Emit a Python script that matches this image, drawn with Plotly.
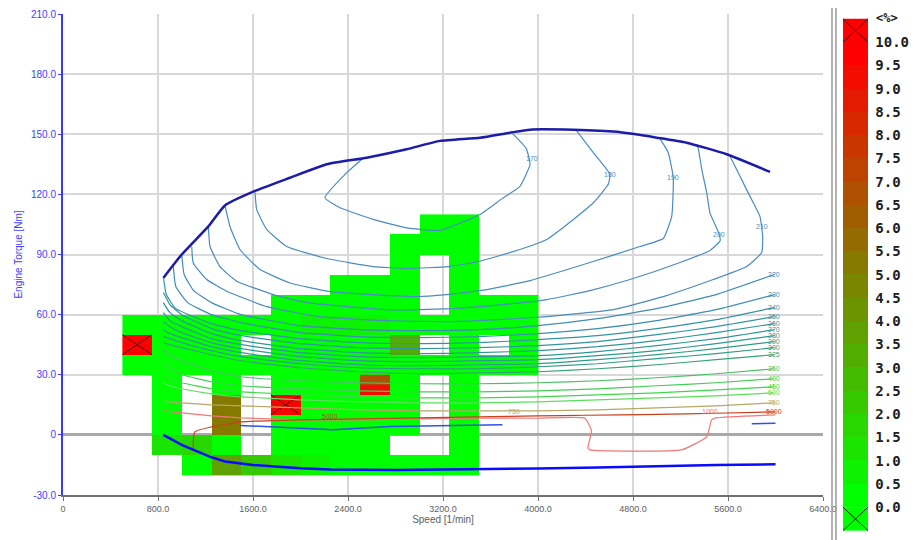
import plotly.graph_objects as go

# ---------------- data ----------------
cell_speed = [625, 875, 1125, 1375, 1625, 1875, 2125, 2375, 2625, 2875, 3125, 3375, 3625, 3875]
cell_torque = [-15, -5, 5, 15, 25, 35, 45, 55, 65, 75, 85, 95, 105]
N = None
cell_value = [
    [N, N, 0, 3.5, 2, 1, 0.5, 0, 0, 0, 0, 0, N, N],
    [N, 1, 1.5, 0, N, 0, 0, 0, 0, N, N, 0, N, N],
    [N, 0, N, 5, N, 0, 0, 0, 0, 0, N, 0, N, N],
    [N, 0, N, 5, N, 10, 0, 0, 0, 0, N, 0, N, N],
    [N, 0, N, 0, N, 0, 0, 0, 9, 0, N, 0, N, N],
    [0, 0.3, 0, 0, 0, 0, 0, 0, 0, 0, 0, 0, 0, 0],
    [10, 0.3, 0, 0, N, 0, 0, 0.3, 0, 3, N, 0, N, 0],
    [0, 0, 0, 0, 0, 0, 0.6, 0.6, 0.6, 0, 0, 0, 0, 0],
    [N, N, N, N, N, 0, 0, 0, 0, 0.3, N, 0.3, 0, 0],
    [N, N, N, N, N, N, N, 0, 0, 0.3, N, 0.3, N, N],
    [N, N, N, N, N, N, N, N, N, 0.3, N, 0.3, N, N],
    [N, N, N, N, N, N, N, N, N, 0.3, 0, 0, N, N],
    [N, N, N, N, N, N, N, N, N, N, 0, 0, N, N],
]
# half-height sub cell (upper half of the 2500-2750 / 20-30 cell)
sub_cell_speed_edges = [2500, 2750]
sub_cell_torque_edges = [25, 30]
sub_cell_value = [[6.5]]

fullload_speed = [845, 1000, 1224, 1364, 1617, 1912, 2221, 2557, 2894, 3175, 3512, 3764, 3933, 4298, 4663, 5000, 5252, 5589, 5954]
fullload_torque = [78.3, 90, 104, 114.5, 121.7, 128.3, 135, 138.3, 142.5, 146.7, 148.3, 150.8, 152.3, 152.2, 151.2, 148.3, 145.8, 140, 131.2]

motoring_speed = [845, 1000, 1100, 1240, 1365, 1600, 2000, 2250, 2800, 3500, 4000, 4500, 5000, 5500, 6000]
motoring_torque = [0, -5, -7.5, -11, -13.3, -15, -16.7, -17.3, -17.5, -17.3, -16.8, -16.3, -15.5, -15, -14.7]

zero_power_speed = [1490, 2000, 2275, 2750, 3120, 3700, None, 5800, 6000]
zero_power_torque = [4.7, 3.5, 2.5, 4.2, 4.5, 5.0, None, 5.5, 5.8]

base_speed = [845, 900, 1000, 1250, 1500, 2000, 2500, 3000, 3500, 4000, 4500, 5000, 5500, 5990]

contour_levels = ["170", "180", "190", "200", "210", "220", "230", "240", "250", "260", "270",
                  "280", "290", "300", "325", "350", "400", "450", "500", "750", "1000", "5000"]

contour_speed = {
    "170": [2527, 2375, 2206, 2333, 2613, 2894, 3175, 3512, 3700, 3848, 3933, 3900, 3778],
    "180": [1617, 1631, 1715, 1884, 2221, 2613, 2900, 3250, 3512, 3848, 4073, 4298, 4466, 4592, 4606, 4466, 4326],
    "190": [1364, 1406, 1490, 1659, 1912, 2248, 2613, 2978, 3231, 3568, 3933, 4438, 4859, 5055, 5126, 5139, 5097, 5027],
    "200": [1224, 1238, 1322, 1463, 1771, 2052, 2400, 2726, 3000, 3287, 3512, 3708, 4073, 4438, 4775, 5196, 5448, 5533, 5527, 5448, 5421, 5379, 5351, 5337],
    "210": [1084, 1097, 1210, 1379, 1715, 2164, 2700, 3200, 3512, 4073, 4634, 5055, 5476, 5757, 5884, 5892, 5869, 5785, 5701, 5617],
    "220": [1000, 1020, 1100, 1250, 1500, 2000, 2500, 3000, 3500, 4000, 4500, 5000, 5500, 5990],
    "230": [929, 950, 1050, 1250, 1500, 2000, 2500, 3000, 3500, 4000, 4500, 5000, 5500, 5990],
    "240": [847, 870, 950, 1250, 1500, 2000, 2500, 3000, 3500, 4000, 4500, 5000, 5500, 5990],
    "250": base_speed, "260": base_speed, "270": base_speed, "280": base_speed,
    "290": base_speed, "300": base_speed, "325": base_speed, "350": base_speed,
    "400": base_speed, "450": base_speed, "500": base_speed, "750": base_speed,
    "1000": [845, 1000, 1250, 1500, 2000, 2500, 3000, 3500, 4000, 4396, 4450, 4420, 4438, 5208, 5421, 5462, 5500, 6000],
    "5000": [1095, 1110, 1250, 1500, 2000, 2500, 3000, 3500, 4000, 4396, 5000, 5500, 6000],
}
contour_torque = {
    "170": [138, 130, 118.3, 113.3, 107.5, 103.3, 102, 110, 118, 124, 135, 143, 150.8],
    "180": [121, 112.5, 102.5, 94, 88, 84, 83, 84, 86.7, 92.5, 97.5, 107.5, 115.8, 125, 130, 140.8, 151.7],
    "190": [114.5, 104, 92.5, 82.5, 75.8, 71.5, 70, 69, 70, 72.5, 77, 86, 94, 98, 109, 128.3, 140.8, 147.8],
    "200": [104, 94, 84, 76.7, 70, 66, 64, 62.5, 62.5, 63, 64, 65, 67.5, 72, 77.5, 86, 92, 96.7, 100, 110.8, 120.8, 132.5, 142.5, 145],
    "210": [94, 85.8, 77.5, 71.7, 64, 59, 57, 56.5, 57, 59, 62.5, 69, 77.5, 84, 91, 99, 109, 119, 129, 139],
    "220": [90, 80, 72, 66, 60, 54.5, 52.5, 52, 52.5, 54.5, 58, 63, 70, 80],
    "230": [84, 74, 66, 60, 56, 51, 49, 48.5, 49, 50.5, 53, 57, 62.5, 70],
    "240": [78, 70, 63, 55.5, 52, 48, 46, 45.5, 46, 47.5, 49.5, 53, 57.5, 63.5],
    "250": [71, 65, 60, 53, 49.5, 45.5, 43.5, 43, 43.5, 44.5, 46.5, 50, 54, 59],
    "260": [66, 61, 57, 50.5, 47, 43, 41, 40.5, 41, 42, 44, 47, 51, 55.5],
    "270": [61, 57, 54, 48, 45, 41, 39, 38.5, 39, 39.5, 41.5, 44.5, 48, 52.5],
    "280": [56.5, 54, 51, 46, 43, 39, 37, 36.5, 37, 37.5, 39.5, 42, 45.5, 49.5],
    "290": [52.5, 50.5, 48.5, 44, 41, 37, 35, 34.5, 35, 35.5, 37.5, 40, 43, 46.5],
    "300": [49, 48, 46, 42, 39, 35.5, 33.5, 33, 33, 34, 35.5, 38, 40.5, 43.5],
    "325": [46, 45, 43.5, 40, 37, 33.5, 31.5, 30.5, 31, 31.5, 33, 35, 37.5, 40],
    "350": [42.5, 40, 37, 32, 29, 27, 26, 25.5, 25.5, 26, 27, 28.5, 30.5, 33],
    "400": [36, 33, 30, 26.5, 24.5, 23, 22, 21.5, 21.5, 22, 23, 24.5, 26, 28],
    "450": [30, 28, 26, 23, 21.5, 20, 19, 18.5, 18.5, 19, 20, 21, 22.5, 24],
    "500": [26, 24.5, 23, 20.5, 19, 17.5, 16.5, 16, 16, 16.5, 17.5, 18.5, 19.5, 21],
    "750": [17, 16.5, 16, 15, 14.5, 13.5, 12.5, 12, 12, 12, 12.5, 13.5, 14.5, 16],
    "1000": [12, 11, 9.5, 8.5, 7.5, 7.5, 8, 8.3, 8.3, 8.3, 2, -6.5, -7.5, -7.5, -1, 7.5, 8.5, 10],
    "5000": [-8, 1.5, 4, 6.5, 7.5, 8, 8.5, 9, 9.5, 9.8, 10.2, 10.8, 11.5],
}
contour_color = {
    "170": "#4a8cc0", "180": "#4a8cc0", "190": "#4a8cc0", "200": "#4a8cc0", "210": "#4a8cc0",
    "220": "#3f8cb4", "230": "#3a8fae", "240": "#3592a6", "250": "#32949f", "260": "#30969a",
    "270": "#2e9895", "280": "#2e9a90", "290": "#2f9b8b", "300": "#319d86", "325": "#36a27a",
    "350": "#4cc068", "400": "#44cc56", "450": "#3fd84a", "500": "#5ae05a", "750": "#b4a868",
    "1000": "#f07878", "5000": "#c8401c",
}

label_text = ["170", "180", "190", "200", "210", "220", "230", "240", "250", "260", "270", "280",
              "290", "300", "325", "350", "400", "450", "500", "750", "5000", "5000", "750", "1000"]
label_speed = [3947, 4606, 5139, 5527, 5884, 5990, 5990, 5990, 5990, 5990, 5990, 5990,
               5990, 5990, 5990, 5990, 5990, 5990, 5990, 5990, 5990, 2250, 3800, 5450]
label_torque = [138, 130, 128.3, 100, 104, 80, 70, 63.5, 59, 55.5, 52.5, 49.5,
                46.5, 43.5, 40, 33, 28, 24, 21, 16, 11.5, 9, 11.5, 11.5]
label_key = ["170", "180", "190", "200", "210", "220", "230", "240", "250", "260", "270", "280",
             "290", "300", "325", "350", "400", "450", "500", "750", "5000", "5000", "750", "1000"]

x_ticks = [0, 800, 1600, 2400, 3200, 4000, 4800, 5600, 6400]
y_ticks = [-30, 0, 30, 60, 90, 120, 150, 180, 210]
cb_ticks = [i * 0.5 for i in range(21)]

# ---------------- figure ----------------
# the page body has an 8 px margin, so the figure is sized to fill the 917x540 window exactly
OFF = 8
W, H = 917 - OFF, 540 - OFF
L, T = 63 - OFF, 14 - OFF
PW, PH = 760, 481
R, B = W - L - PW, H - T - PH


def px_x(p):
    # reference window pixel -> paper x
    return (p - OFF - L) / PW


def px_y(p):
    # reference window pixel -> paper y
    return (T + PH - (p - OFF)) / PH


green = (0, 255, 0)
red = (255, 0, 0)


def lerp(f):
    return "rgb(%d,%d,%d)" % tuple(round(g + (r - g) * f) for g, r in zip(green, red))


colorscale = []
nb = 20
for k in range(nb):
    c = lerp(k / (nb - 1))
    colorscale.append([k / nb, c])
    colorscale.append([(k + 1) / nb, c])

CB_X0, CB_X1 = 843, 868
CB_TOP, CB_BOT = 42.2, 507.2
BAND = (CB_BOT - CB_TOP) / 20

fig = go.Figure()

fig.add_trace(go.Heatmap(
    x=cell_speed, y=cell_torque, z=cell_value, zmin=0, zmax=10,
    colorscale=colorscale, hoverinfo="skip", xgap=0, ygap=0,
    colorbar=dict(
        x=px_x(CB_X0), xanchor="left", xpad=0, thickness=CB_X1 - CB_X0, thicknessmode="pixels",
        len=CB_BOT - CB_TOP, lenmode="pixels", y=px_y(CB_TOP), yanchor="top", ypad=0,
        tickmode="array", tickvals=cb_ticks, ticktext=["%.1f" % v for v in cb_ticks],
        tickfont=dict(family="DejaVu Sans Mono", size=14, color="#202020", weight="bold"),
        ticks="outside", ticklen=5, tickcolor="rgba(0,0,0,0)", outlinewidth=0,
    ),
))
fig.add_trace(go.Heatmap(
    x=sub_cell_speed_edges, y=sub_cell_torque_edges, z=sub_cell_value, zmin=0, zmax=10,
    colorscale=colorscale, hoverinfo="skip", showscale=False,
))

# X marks over saturated cells
xs, ys = [], []
for ri, row in enumerate(cell_value):
    for ci, v in enumerate(row):
        if v is not None and v >= 10:
            x0, x1 = cell_speed[ci] - 125, cell_speed[ci] + 125
            y0, y1 = cell_torque[ri] - 5, cell_torque[ri] + 5
            xs += [x0, x1, None, x0, x1, None]
            ys += [y0, y1, None, y1, y0, None]
fig.add_trace(go.Scatter(x=xs, y=ys, mode="lines", line=dict(color="#401010", width=1),
                         hoverinfo="skip", showlegend=False))

fig.add_trace(go.Scatter(x=zero_power_speed, y=zero_power_torque, mode="lines",
                         line=dict(color="#3050e8", width=1.5), hoverinfo="skip", showlegend=False))

for lev in contour_levels:
    fig.add_trace(go.Scatter(x=contour_speed[lev], y=contour_torque[lev], mode="lines",
                             line=dict(color=contour_color[lev], width=1.2, shape="spline", smoothing=0.4),
                             hoverinfo="skip", showlegend=False))

fig.add_trace(go.Scatter(x=fullload_speed, y=fullload_torque, mode="lines",
                         line=dict(color="#1c1ca8", width=2.5, shape="spline", smoothing=0.5),
                         hoverinfo="skip", showlegend=False))
fig.add_trace(go.Scatter(x=motoring_speed, y=motoring_torque, mode="lines",
                         line=dict(color="#0a0aff", width=2.5), hoverinfo="skip", showlegend=False))

for t, sx, ty, k in zip(label_text, label_speed, label_torque, label_key):
    fig.add_annotation(x=sx, y=ty, text=t, showarrow=False,
                       font=dict(family="Liberation Sans", size=7, color=contour_color[k]))

# colorbar title
fig.add_annotation(x=px_x(874), y=px_y(18), xref="paper", yref="paper", text="<b>&lt;%&gt;</b>",
                   xanchor="left", yanchor="middle",
                   showarrow=False, font=dict(family="DejaVu Sans Mono", size=12, color="#202020"))

# over/under range boxes with crosses, separator double line
shapes = []
for (top, bot, col) in [(CB_TOP - BAND - 0.2, CB_TOP, lerp(1)), (CB_BOT, CB_BOT + BAND + 0.2, lerp(0))]:
    shapes.append(dict(type="rect", xref="paper", yref="paper", x0=px_x(CB_X0), x1=px_x(CB_X1),
                       y0=px_y(bot), y1=px_y(top), fillcolor=col, line=dict(width=0)))
    shapes.append(dict(type="line", xref="paper", yref="paper", x0=px_x(CB_X0), x1=px_x(CB_X1),
                       y0=px_y(top), y1=px_y(bot), line=dict(color="#202020", width=1)))
    shapes.append(dict(type="line", xref="paper", yref="paper", x0=px_x(CB_X0), x1=px_x(CB_X1),
                       y0=px_y(bot), y1=px_y(top), line=dict(color="#202020", width=1)))
for xp in (832, 836):
    shapes.append(dict(type="line", xref="paper", yref="paper", x0=px_x(xp), x1=px_x(xp),
                       y0=px_y(540), y1=px_y(OFF), line=dict(color="#9a9a9a", width=1.5)))
fig.update_layout(shapes=shapes)

fig.update_layout(
    width=W, height=H, margin=dict(l=L, r=R, t=T, b=B, pad=0, autoexpand=False),
    paper_bgcolor="white", plot_bgcolor="white", showlegend=False,
    xaxis=dict(range=[0, 6400], tickmode="array", tickvals=x_ticks,
               ticktext=["0"] + ["%.1f" % v for v in x_ticks[1:]], automargin=False,
               showgrid=True, gridcolor="#d8d8d8", gridwidth=2, zeroline=False,
               showline=True, linecolor="#707070", linewidth=2,
               ticks="outside", ticklen=4, tickcolor="#707070",
               tickfont=dict(family="Liberation Sans", size=9, color="#606060"),
               title=dict(text="Speed [1/min]", standoff=3,
                          font=dict(family="Liberation Sans", size=10, color="#606060"))),
    yaxis=dict(range=[-30, 210], tickmode="array", tickvals=y_ticks, automargin=False,
               ticktext=["%.1f" % v if v != 0 else "0" for v in y_ticks],
               showgrid=True, gridcolor="#d8d8d8", gridwidth=2,
               zeroline=True, zerolinecolor="#a8a8a8", zerolinewidth=2.5,
               showline=True, linecolor="#3a3aff", linewidth=2,
               ticks="outside", ticklen=3, tickcolor="#3a3aff",
               tickfont=dict(family="Liberation Sans", size=10, color="#4040ff"),
               title=dict(text="Engine Torque [Nm]", standoff=6,
                          font=dict(family="Liberation Sans", size=10, color="#4040ff"))),
)

fig.write_html("out.html")
